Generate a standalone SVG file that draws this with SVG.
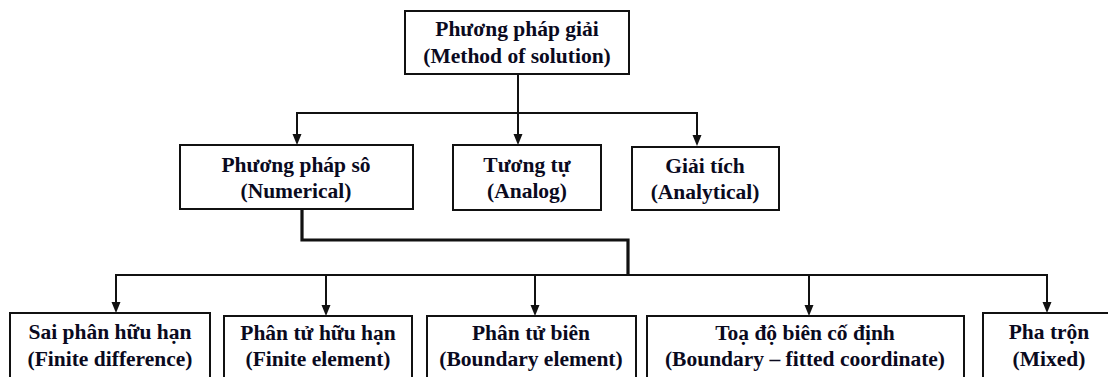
<svg xmlns="http://www.w3.org/2000/svg" width="1108" height="377" viewBox="0 0 1108 377">
  <style>
    .box { fill: #ffffff; stroke: #111111; stroke-width: 2; }
    .lbl { font-family: "Liberation Serif", "Times New Roman", serif; font-weight: bold; font-size: 21.5px; fill: #0a0a1e; text-anchor: middle; }
    .wire { fill: none; stroke: #111111; stroke-width: 2; }
    .thick { fill: none; stroke: #111111; stroke-width: 3.2; }
    .head { fill: #111111; }
  </style>

  <rect width="1108" height="377" fill="#ffffff"/>

  <!-- connectors: trunk and buses, with filled arrowheads ending on the box tops -->
  <g id="connectors">
    <line class="wire" x1="518" y1="74" x2="518" y2="113"/>
    <line class="wire" x1="296" y1="113" x2="698" y2="113"/>
    <path class="wire" d="M297,113 V135"/>
    <path class="wire" d="M518,113 V135"/>
    <path class="wire" d="M697,113 V135"/>
    <polygon class="head" points="292.5,134 301.5,134 297,145"/>
    <polygon class="head" points="513.5,134 522.5,134 518,145"/>
    <polygon class="head" points="692.5,135 701.5,135 697,146"/>

    <path class="thick" d="M302,209 V240 H628 V275"/>
    <line class="wire" x1="115" y1="275" x2="1048" y2="275"/>
    <path class="wire" d="M116,275 V303"/>
    <path class="wire" d="M326,275 V306"/>
    <path class="wire" d="M535,275 V306"/>
    <path class="wire" d="M809,275 V306"/>
    <path class="wire" d="M1047,275 V303"/>
    <polygon class="head" points="111.5,302 120.5,302 116,313"/>
    <polygon class="head" points="321.5,305 330.5,305 326,316"/>
    <polygon class="head" points="530.5,305 539.5,305 535,316"/>
    <polygon class="head" points="804.5,305 813.5,305 809,316"/>
    <polygon class="head" points="1042.5,302 1051.5,302 1047,313"/>
  </g>

  <g id="method">
    <rect class="box" x="405" y="11" width="224" height="63"/>
    <text class="lbl" x="517" y="36">Phương pháp giải</text>
    <text class="lbl" x="517" y="63">(Method of solution)</text>
  </g>

  <g id="numerical">
    <rect class="box" x="180" y="145" width="233" height="64"/>
    <text class="lbl" x="296" y="172">Phương pháp sô</text>
    <text class="lbl" x="296" y="198">(Numerical)</text>
  </g>

  <g id="analog">
    <rect class="box" x="453" y="145" width="148" height="65"/>
    <text class="lbl" x="527" y="172">Tương tự</text>
    <text class="lbl" x="527" y="198">(Analog)</text>
  </g>

  <g id="analytical">
    <rect class="box" x="632" y="147" width="147" height="63"/>
    <text class="lbl" x="705" y="173">Giải tích</text>
    <text class="lbl" x="705" y="199">(Analytical)</text>
  </g>

  <g id="finite-difference">
    <rect class="box" x="10" y="313" width="200" height="80"/>
    <text class="lbl" x="110" y="339">Sai phân hữu hạn</text>
    <text class="lbl" x="110" y="366">(Finite difference)</text>
  </g>

  <g id="finite-element">
    <rect class="box" x="224" y="316" width="188" height="80"/>
    <text class="lbl" x="318" y="340">Phân tử hữu hạn</text>
    <text class="lbl" x="318" y="366">(Finite element)</text>
  </g>

  <g id="boundary-element">
    <rect class="box" x="427" y="316" width="209" height="80"/>
    <text class="lbl" x="531" y="340">Phân tử biên</text>
    <text class="lbl" x="531" y="366">(Boundary element)</text>
  </g>

  <g id="fitted-coordinate">
    <rect class="box" x="647" y="316" width="317" height="80"/>
    <text class="lbl" x="805" y="340">Toạ độ biên cố định</text>
    <text class="lbl" x="805" y="366">(Boundary – fitted coordinate)</text>
  </g>

  <g id="mixed">
    <rect class="box" x="983" y="313" width="140" height="80"/>
    <text class="lbl" x="1049" y="339">Pha trộn</text>
    <text class="lbl" x="1049" y="366">(Mixed)</text>
  </g>
</svg>
